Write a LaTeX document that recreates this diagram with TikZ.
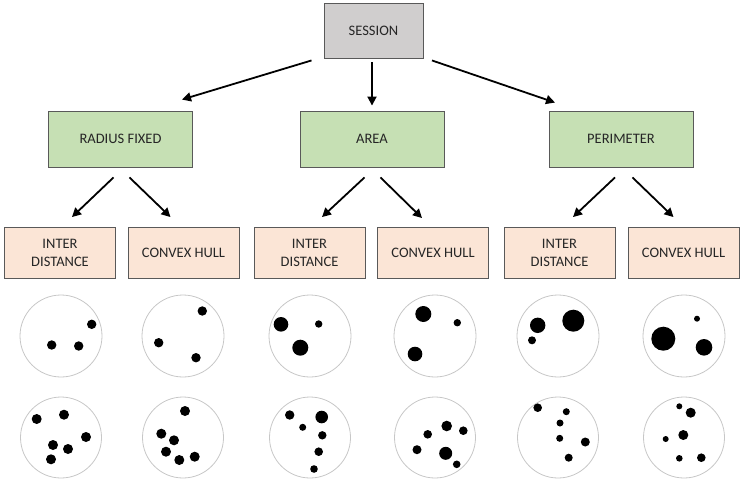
\documentclass[tikz,border=0pt]{standalone}
\usepackage{fontspec}
\setmainfont{Carlito}
\usetikzlibrary{arrows.meta}

\definecolor{sessgray}{HTML}{D0CECE}
\definecolor{groupgreen}{HTML}{C6E0B4}
\definecolor{leafpeach}{HTML}{FBE5D6}

\begin{document}
\begin{tikzpicture}[x=1pt,y=-1pt,
    box/.style={draw=black!65, line width=0.9pt, align=center,
        font=\fontsize{14.5}{18}\selectfont, text=black!85},
    top/.style={box, fill=sessgray, minimum width=99pt, minimum height=55pt},
    group/.style={box, fill=groupgreen, minimum width=144pt, minimum height=56pt},
    leaf/.style={box, fill=leafpeach, minimum width=111pt, minimum height=51pt},
    arr/.style={-{Triangle[length=9pt,width=9pt]}, line width=1.8pt},
    disc/.style={draw=black!22, line width=0.8pt}]
    \useasboundingbox (0,0) rectangle (746,480);

    % session and the three groups
    \node[top]   (session) at (373.5,30.5) {SESSION};
    \node[group] (radius)  at (120.5,139)  {RADIUS FIXED};
    \node[group] (area)    at (372,139)    {AREA};
    \node[group] (perim)   at (621,139)    {PERIMETER};

    % leaves
    \node[leaf] (ir) at (60,253)    {INTER\\DISTANCE};
    \node[leaf] (cr) at (183.5,253) {CONVEX HULL};
    \node[leaf] (ia) at (309.5,253) {INTER\\DISTANCE};
    \node[leaf] (ca) at (433,253)   {CONVEX HULL};
    \node[leaf] (ip) at (559.5,253) {INTER\\DISTANCE};
    \node[leaf] (cp) at (683.5,253) {CONVEX HULL};

    \draw[arr] ([xshift=-62pt,yshift=-2pt]session.south) -- ([xshift=61.5pt,yshift=11pt]radius.north);
    \draw[arr] ([xshift=-1.5pt,yshift=-4pt]session.south) -- ([yshift=5pt]area.north);
    \draw[arr] ([xshift=58.5pt,yshift=-2pt]session.south) -- ([xshift=-66pt,yshift=8pt]perim.north);

    \draw[arr] ([xshift=-7pt,yshift=-10pt]radius.south) -- ([xshift=12pt,yshift=10pt]ir.north);
    \draw[arr] ([xshift=9pt,yshift=-10pt]radius.south) -- ([xshift=-13pt,yshift=10pt]cr.north);
    \draw[arr] ([xshift=-7.5pt,yshift=-10pt]area.south) -- ([xshift=12.5pt,yshift=10pt]ia.north);
    \draw[arr] ([xshift=8.5pt,yshift=-10pt]area.south) -- ([xshift=-11pt,yshift=9pt]ca.north);
    \draw[arr] ([xshift=-6pt,yshift=-10pt]perim.south) -- ([xshift=13.5pt,yshift=10pt]ip.north);
    \draw[arr] ([xshift=11.5pt,yshift=-10pt]perim.south) -- ([xshift=-10pt,yshift=10pt]cp.north);

    % sample discs
    \foreach \cx in {61,183,310,435,558,684} {
        \draw[disc] (\cx,336) circle (41pt);
        \draw[disc] (\cx,437.5) circle (40.5pt);
    }

    % first row of dots
    \foreach \x/\y/\r in {91.7/324.3/4.7, 51.7/345/4.7, 78.7/346/4.7,
        202.3/311/4.7, 158.7/342.7/4.7, 196/357.7/4.7,
        281/324.3/7.3, 318.7/324/3.7, 300.3/347.7/8,
        423.3/314/8, 457.3/322.7/3.7, 415/354/7.3,
        537.7/325.3/7.7, 573.3/320.7/11, 532/340.3/4,
        697/318.7/3, 663.3/338.7/12, 704/347.3/8.3}
        \fill (\x,\y) circle (\r pt);

    % second row of dots
    \foreach \x/\y/\r in {36.7/419/5, 64/414.7/5, 86/437/5, 53/445/5, 68/449/5, 51/459.3/5,
        185/411/5, 161.3/433.7/5, 174/440.3/5, 166/451.7/5, 179.3/460/5, 194.7/456.7/5,
        289.7/415/4.7, 321.7/417/6.3, 302.7/427.3/3.5, 322.3/435.3/4.2, 318.7/451.7/4.3, 314/469/3.8,
        446.7/426/5.3, 427.7/434.3/4.3, 463.3/430.7/4.3, 417/449.7/4.5, 445.7/453.3/6.5, 456.7/464.3/3.8,
        537.7/407.7/4.3, 566.3/411.7/3.5, 560/423/3.5, 559.7/438.3/3.5, 585.3/442/4.5, 568.7/457.7/4,
        679.3/406.3/3, 690.7/412.7/5, 683.3/435/5, 665.7/439/3, 679.3/458.3/3.3, 701.3/457.7/4.3}
        \fill (\x,\y) circle (\r pt);
\end{tikzpicture}
\end{document}
